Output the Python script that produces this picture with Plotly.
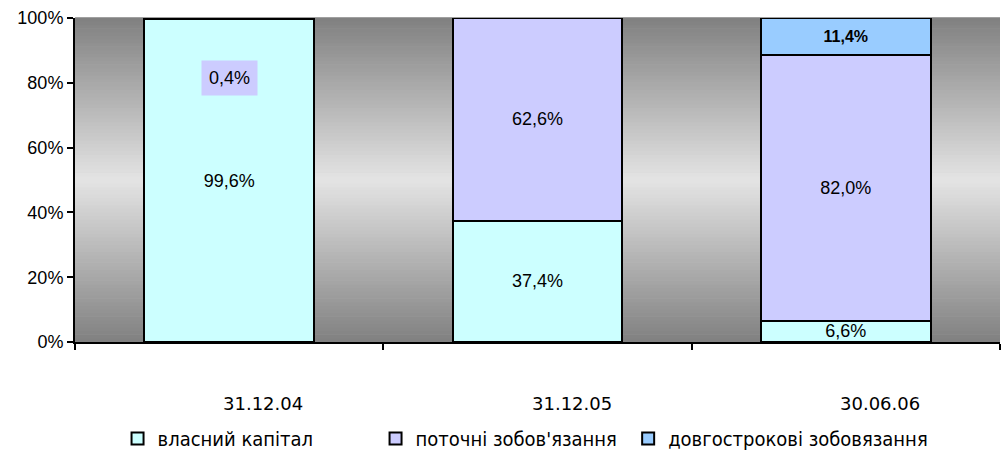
import plotly.graph_objects as go

# Balance-sheet structure by reporting date (shares of total, %)
dates = ["31.12.04", "31.12.05", "30.06.06"]
equity = [99.6, 37.4, 6.6]
current_liab = [0.4, 62.6, 82.0]
longterm_liab = [0.0, 0.0, 11.4]
series_names = ["власний капітал", "поточні зобов'язання", "довгострокові зобовязання"]
y_ticks = [0, 20, 40, 60, 80, 100]
y_tick_text = [f"{v}%" for v in y_ticks]

colors = ["#CCFFFF", "#CCCCFF", "#99CCFF"]
label_font = dict(family="Arial, Liberation Sans", size=18, color="black")
legend_font = dict(family="Liberation Sans Narrow, DejaVu Sans Condensed, Arial Narrow",
                   size=20, color="black")


def pct(v):
    return f"{v:.1f}%".replace(".", ",")


fig = go.Figure()

# equity segments
fig.add_trace(go.Bar(
    x=dates, y=equity, name=series_names[0],
    marker=dict(color=colors[0], line=dict(color="black", width=2)),
    text=[pct(v) for v in equity], textposition="inside",
    insidetextanchor="middle", textangle=0, constraintext="none",
    textfont=label_font, width=0.55, legend="legend",
))

# current liabilities; the tiny first segment is labelled separately
fig.add_trace(go.Bar(
    x=dates, y=current_liab, name=series_names[1],
    marker=dict(color=colors[1], line=dict(color="black", width=2)),
    text=["" if v < 1 else pct(v) for v in current_liab], textposition="inside",
    insidetextanchor="middle", textangle=0, constraintext="none",
    textfont=label_font, width=0.55, legend="legend",
))

# long-term liabilities (bold label), listed in its own legend box
fig.add_trace(go.Bar(
    x=dates, y=longterm_liab, name=series_names[2],
    marker=dict(color=colors[2], line=dict(color="black", width=2)),
    text=["" if v == 0 else f"<b>{pct(v)}</b>" for v in longterm_liab],
    textposition="inside", insidetextanchor="middle", textangle=0,
    constraintext="none",
    textfont=dict(family="Arial, Liberation Sans", size=16, color="black"),
    width=0.55, legend="legend2",
))

# label for the small current-liabilities share of the first bar
fig.add_annotation(
    x=dates[0], y=81.5, text=pct(current_liab[0]), showarrow=False,
    font=label_font, bgcolor=colors[1], borderpad=7,
)

# category labels set well below the axis, nudged right
for d in dates:
    fig.add_annotation(
        x=d, y=0, yref="paper", yanchor="middle", yshift=-61, xshift=34,
        text=d, showarrow=False,
        font=dict(family="DejaVu Sans, Verdana", size=18, color="black"),
    )

# vertical grey gradient behind the bars: dark at the edges, light in the middle
n_bands = 90
dark, light = 128, 228
for i in range(n_bands):
    f0 = i / n_bands
    mid = (i + 0.5) / n_bands
    t = 1 - abs(mid - 0.5) * 2
    g = int(round(dark + (light - dark) * t))
    fig.add_shape(
        type="rect", xref="paper", yref="paper",
        x0=0, x1=1, y0=f0, y1=f0 + 1 / n_bands + 0.002,
        fillcolor=f"rgb({g},{g},{g})", line=dict(width=0), layer="below",
    )

legend_common = dict(
    orientation="h", xanchor="left", y=-0.238, yanchor="top",
    font=legend_font, itemwidth=30, traceorder="normal",
    bgcolor="rgba(0,0,0,0)",
)

fig.update_layout(
    barmode="stack",
    width=1003, height=450,
    margin=dict(l=75, r=3, t=18, b=108, autoexpand=False),
    paper_bgcolor="white", plot_bgcolor="rgb(200,200,200)",
    showlegend=True,
    legend=dict(legend_common, x=0.046, entrywidth=213, entrywidthmode="pixels"),
    legend2=dict(legend_common, x=0.598),
    font=dict(family="Arial, Liberation Sans", size=18, color="black"),
)

fig.update_xaxes(
    showline=True, linecolor="black", linewidth=2,
    ticks="outside", ticklen=6, tickcolor="black", tickwidth=2,
    tickson="boundaries", showticklabels=False, showgrid=False,
)
fig.update_yaxes(
    range=[0, 100], tickvals=y_ticks, ticktext=y_tick_text,
    showline=True, linecolor="black", linewidth=2,
    ticks="outside", ticklen=6, tickcolor="black", tickwidth=2,
    showgrid=False, zeroline=False,
    tickfont=dict(family="Arial, Liberation Sans", size=18, color="black"),
)

fig.write_html("out.html")
